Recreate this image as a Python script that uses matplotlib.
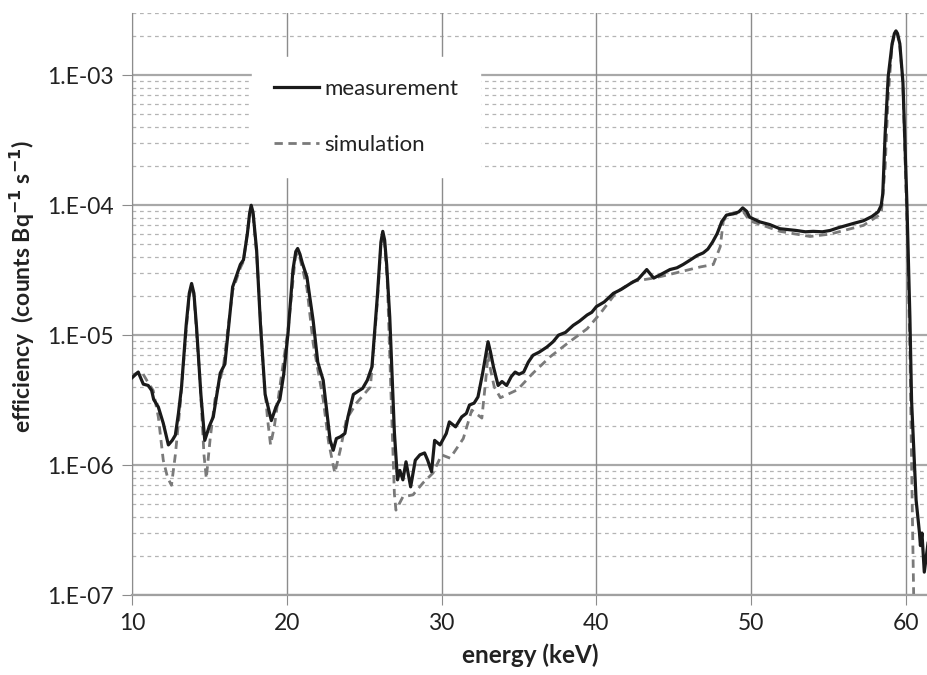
import numpy as np
import matplotlib.pyplot as plt
from matplotlib.ticker import FixedLocator, FuncFormatter, NullFormatter

# measured spectrum (energy keV, efficiency counts/Bq/s)
meas_E = [10.0, 10.4, 10.73, 11.05, 11.27, 11.4, 11.7, 12.02, 12.35, 12.6, 12.8, 13.0,
          13.2, 13.5, 13.7, 13.85, 14.0, 14.17, 14.45, 14.7, 15.0, 15.25, 15.7, 16.0,
          16.5, 17.0, 17.2, 17.45, 17.6, 17.7, 17.82, 18.05, 18.3, 18.6, 19.0, 19.3,
          19.55, 19.8, 20.08, 20.4, 20.58, 20.7, 20.85, 21.0, 21.3, 21.7, 22.0, 22.35,
          22.6, 22.8, 23.0, 23.2, 23.45, 23.75, 23.95, 24.3, 24.6, 24.9, 25.2, 25.5,
          25.85, 26.08, 26.2, 26.32, 26.45, 26.65, 26.95, 27.15, 27.3, 27.5, 27.7, 27.85,
          28.0, 28.3, 28.6, 28.9, 29.1, 29.35, 29.55, 29.9, 30.3, 30.5, 30.9, 31.3,
          31.6, 31.8, 32.1, 32.35, 32.65, 32.85, 33.0, 33.15, 33.35, 33.65, 33.9, 34.2,
          34.5, 34.75, 35.0, 35.3, 35.6, 35.9, 36.3, 36.8, 37.2, 37.55, 38.0, 38.5,
          38.9, 39.4, 39.7, 40.0, 40.5, 41.1, 41.6, 42.2, 42.7, 43.25, 43.7, 44.2,
          44.75, 45.2, 45.6, 46.0, 46.5, 46.9, 47.2, 47.5, 47.8, 48.1, 48.4, 48.85,
          49.2, 49.45, 49.7, 49.9, 50.55, 51.2, 51.85, 52.4, 52.9, 53.5, 54.0, 54.6,
          55.1, 55.6, 56.15, 56.7, 57.25, 57.8, 58.2, 58.4, 58.5, 58.65, 58.85, 59.1,
          59.25, 59.35, 59.45, 59.6, 59.8, 60.05, 60.25, 60.36, 60.65, 60.87, 60.93, 61.03,
          61.18, 61.42]
meas_V = [4.7e-6, 5.2e-6, 4.2e-6, 4.1e-6, 3.75e-6, 3.2e-6, 2.8e-6, 2.1e-6, 1.43e-6, 1.55e-6, 1.7e-6, 2.5e-6,
          4.0e-6, 1.2e-5, 2.1e-5, 2.5e-5, 2.1e-5, 1.15e-5, 3.5e-6, 1.55e-6, 2.0e-6, 2.35e-6, 5.1e-6, 6.0e-6,
          2.35e-5, 3.5e-5, 3.8e-5, 6.0e-5, 8.7e-5, 1.0e-4, 8.8e-5, 4.5e-5, 1.2e-5, 3.5e-6, 2.2e-6, 2.8e-6,
          3.2e-6, 5.0e-6, 1.04e-5, 3.2e-5, 4.4e-5, 4.65e-5, 4.2e-5, 3.6e-5, 2.8e-5, 1.3e-5, 6.2e-6, 4.5e-6,
          2.5e-6, 1.55e-6, 1.3e-6, 1.6e-6, 1.65e-6, 1.75e-6, 2.35e-6, 3.5e-6, 3.7e-6, 3.9e-6, 4.5e-6, 5.7e-6,
          2.0e-5, 5.2e-5, 6.3e-5, 5.4e-5, 3.5e-5, 1.38e-5, 1.78e-6, 7.7e-7, 9.1e-7, 7.7e-7, 1.06e-6, 8.5e-7,
          6.8e-7, 1.09e-6, 1.2e-6, 1.24e-6, 1.09e-6, 8.9e-7, 1.55e-6, 1.43e-6, 1.75e-6, 2.15e-6, 1.97e-6, 2.35e-6,
          2.5e-6, 2.9e-6, 3.0e-6, 3.35e-6, 5.1e-6, 7.0e-6, 8.9e-6, 7.5e-6, 5.7e-6, 4.1e-6, 4.4e-6, 4.1e-6,
          4.8e-6, 5.2e-6, 5.0e-6, 5.2e-6, 6.2e-6, 7.0e-6, 7.4e-6, 8.1e-6, 8.9e-6, 1.0e-5, 1.05e-5, 1.19e-5,
          1.28e-5, 1.43e-5, 1.5e-5, 1.66e-5, 1.8e-5, 2.1e-5, 2.25e-5, 2.5e-5, 2.7e-5, 3.2e-5, 2.75e-5, 2.95e-5,
          3.2e-5, 3.3e-5, 3.5e-5, 3.75e-5, 4.1e-5, 4.3e-5, 4.6e-5, 5.2e-5, 6.05e-5, 7.5e-5, 8.4e-5, 8.6e-5,
          8.9e-5, 9.55e-5, 9.0e-5, 8.1e-5, 7.45e-5, 7.1e-5, 6.6e-5, 6.5e-5, 6.4e-5, 6.25e-5, 6.3e-5, 6.25e-5,
          6.4e-5, 6.7e-5, 7.0e-5, 7.3e-5, 7.6e-5, 8.2e-5, 8.9e-5, 1.0e-4, 1.23e-4, 3.5e-4, 9.8e-4, 1.75e-3,
          2.1e-3, 2.2e-3, 2.1e-3, 1.75e-3, 8.9e-4, 1.1e-4, 1.38e-5, 3.1e-6, 5.4e-7, 3.0e-7, 2.4e-7, 3.0e-7,
          1.5e-7, 2.5e-7]

# simulated spectrum
sim_E = [10.0, 10.6, 10.95, 11.37, 11.7, 12.02, 12.3, 12.55, 12.8, 13.1, 13.5, 13.7,
         13.85, 14.0, 14.1, 14.4, 14.65, 14.8, 15.05, 15.36, 15.9, 16.5, 17.0, 17.2,
         17.6, 17.7, 17.82, 18.05, 18.3, 18.5, 18.75, 18.95, 19.2, 19.55, 20.08, 20.55,
         20.7, 20.85, 21.0, 21.3, 21.7, 22.35, 22.7, 23.1, 23.45, 23.85, 24.5, 25.4,
         25.85, 26.08, 26.2, 26.32, 26.5, 26.75, 26.95, 27.05, 27.5, 28.15, 28.8, 29.45,
         30.0, 30.55, 31.4, 31.95, 32.6, 32.85, 33.0, 33.15, 33.4, 33.8, 34.9, 35.9,
         37.0, 38.1, 39.4, 40.25, 41.3, 42.4, 43.7, 44.55, 46.7, 47.55, 48.0, 48.2,
         48.6, 49.2, 49.5, 49.9, 51.85, 53.8, 55.1, 57.25, 58.4, 58.65, 58.85, 59.1,
         59.25, 59.35, 59.45, 59.6, 59.8, 60.05, 60.25, 60.4, 60.5, 60.55]
sim_V = [4.9e-6, 5.3e-6, 4.5e-6, 3.75e-6, 2.35e-6, 1.09e-6, 8.0e-7, 7.0e-7, 1.2e-6, 2.8e-6, 1.1e-5, 2.0e-5,
         2.4e-5, 2.0e-5, 1.4e-5, 4.3e-6, 1.2e-6, 7.9e-7, 1.6e-6, 3.2e-6, 5.7e-6, 2.2e-5, 3.3e-5, 3.7e-5,
         8.3e-5, 9.5e-5, 8.4e-5, 4.3e-5, 1.3e-5, 5.1e-6, 2.3e-6, 1.43e-6, 2.0e-6, 4.0e-6, 1.1e-5, 4.0e-5,
         4.3e-5, 3.9e-5, 3.3e-5, 2.3e-5, 8.7e-6, 3.2e-6, 1.5e-6, 8.7e-7, 1.3e-6, 2.25e-6, 3.0e-6, 4.0e-6,
         1.8e-5, 5.0e-5, 6.0e-5, 5.0e-5, 2.5e-5, 3.0e-6, 6.0e-7, 4.5e-7, 5.7e-7, 5.9e-7, 7.3e-7, 8.7e-7,
         1.2e-6, 1.13e-6, 1.6e-6, 2.65e-6, 2.3e-6, 4.5e-6, 7.2e-6, 5.5e-6, 4.0e-6, 3.3e-6, 3.8e-6, 5.1e-6,
         6.8e-6, 8.6e-6, 1.12e-5, 1.47e-5, 2.15e-5, 2.6e-5, 2.75e-5, 2.9e-5, 3.35e-5, 3.5e-5, 4.8e-5, 7.6e-5,
         8.6e-5, 8.6e-5, 8.9e-5, 7.6e-5, 6.3e-5, 5.75e-5, 6.0e-5, 7.0e-5, 8.6e-5, 1.95e-4, 7.0e-4, 1.7e-3,
         2.05e-3, 2.15e-3, 2.05e-3, 1.7e-3, 8.5e-4, 8.0e-5, 8.0e-6, 5.0e-7, 9.0e-8, 5.0e-8]

x_ticks = [10, 20, 30, 40, 50, 60]
y_ticks = [1e-7, 1e-6, 1e-5, 1e-4, 1e-3]

plt.rcParams['font.family'] = ['Lato', 'DejaVu Sans']

fig = plt.figure(figsize=(9.28, 6.75), dpi=100)
ax = fig.add_axes([132/928, 80/675, 1 - 132/928, (595-13)/675])

ax.set_yscale('log')
ax.set_xlim(10, 61.42)
ax.set_ylim(1e-7, 3.02e-3)

# grid
minor = [m * 10.0**e for e in range(-7, -2) for m in range(2, 10)]
minor = [v for v in minor if v <= 3.01e-3]
for v in minor:
    ax.axhline(v, color='#b4b4b4', lw=0.9, ls=(0, (3, 3)), zorder=0)
for v in y_ticks:
    ax.axhline(v, color='#a8a8a8', lw=1.6, zorder=0.5)
for v in x_ticks:
    ax.axvline(v, color='#8c8c8c', lw=1.0, zorder=0.6)

ax.plot(sim_E, sim_V, color='#7a7a7a', lw=2.0, ls=(0, (3, 2)), label='simulation', zorder=2)
ax.plot(meas_E, meas_V, color='#1a1a1a', lw=2.3, label='measurement', zorder=3)

for s in ['top', 'right']:
    ax.spines[s].set_visible(False)
ax.spines['left'].set_color('#8c8c8c')
ax.spines['bottom'].set_color('#a0a0a0')
ax.spines['bottom'].set_linewidth(1.6)

ax.yaxis.set_major_locator(FixedLocator(y_ticks))
ax.yaxis.set_minor_locator(FixedLocator(minor))
ax.yaxis.set_minor_formatter(NullFormatter())
ax.yaxis.set_major_formatter(FuncFormatter(lambda v, p: f"1.E-{int(round(-np.log10(v))):02d}"))
ax.set_xticks(x_ticks)
ax.tick_params(axis='both', which='major', length=7, color='#8c8c8c', labelsize=16.5,
               labelcolor='#222222', pad=6)
ax.tick_params(axis='y', which='minor', length=0)

ax.set_xlabel('energy (keV)', fontsize=17.5, fontweight='bold', color='#222222', labelpad=7)
ax.set_ylabel(r'efficiency  (counts Bq$^{\mathbf{-1}}$ s$^{\mathbf{-1}}$)', fontsize=16.5,
              fontweight='bold', color='#222222')
ax.yaxis.set_label_coords(-0.119, 0.53)

h, l = ax.get_legend_handles_labels()
leg = ax.legend(h[::-1], l[::-1], loc='upper left', bbox_to_anchor=(252/928, 1 - 57/675),
                bbox_transform=fig.transFigure, borderaxespad=0, frameon=True, fancybox=False,
                facecolor='white', edgecolor='white', framealpha=1, fontsize=16,
                handlelength=2.0, handletextpad=0.25, labelspacing=1.6, borderpad=1.0)
for t in leg.get_texts():
    t.set_color('#222222')
leg.set_zorder(5)

fig.savefig('out.png', dpi=100)
